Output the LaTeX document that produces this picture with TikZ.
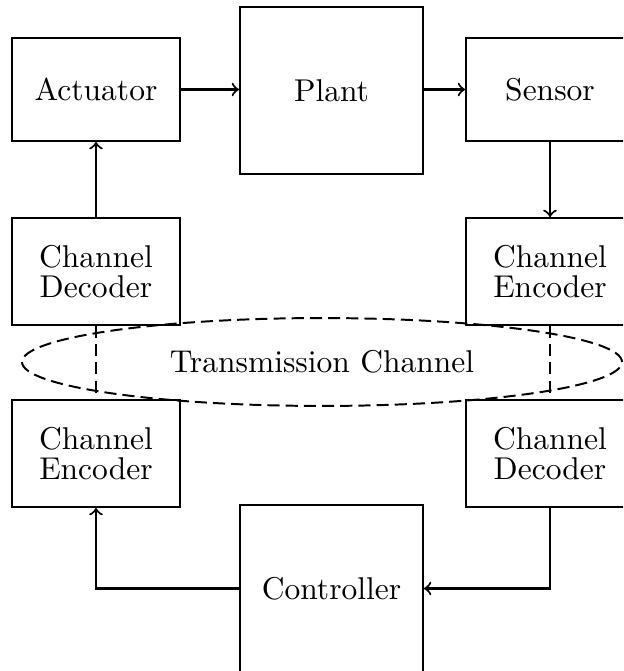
\documentclass[tikz,border=0pt]{standalone}
\usetikzlibrary{calc,shapes.geometric}
\begin{document}
\begin{tikzpicture}[x=0.33pt,y=-0.33pt,
  blk/.style={draw,line width=0.65pt,inner sep=0pt,align=center,
    font=\fontsize{10.4}{9.8}\selectfont},
  smallblk/.style={blk,minimum width=55.4pt,minimum height=34pt},
  chblk/.style={blk,minimum width=55.4pt,minimum height=35.3pt},
  bigblk/.style={blk,minimum width=60.4pt,minimum height=55.1pt},
  wire/.style={line width=0.7pt,->},
  chan/.style={line width=0.65pt,dash pattern=on 4pt off 2pt}]
\useasboundingbox (0,0) rectangle (623,671);
\clip (0,0) rectangle (623,671);

% loop blocks
\node[smallblk] (act)  at (96,89.5)    {Actuator};
\node[bigblk]   (plant) at (331.5,90.5) {Plant};
\node[smallblk] (sens) at (550,89.5)   {Sensor};
\node[chblk] (cdL) at (96,271.5)  {Channel\\Decoder};
\node[chblk] (ceR) at (550,271.5) {Channel\\Encoder};
\node[chblk] (ceL) at (96,453.5)  {Channel\\Encoder};
\node[chblk] (cdR) at (550,453.5) {Channel\\Decoder};
\node[bigblk] (ctrl) at (331.5,588.5) {Controller};

% transmission channel
\node[chan,draw,ellipse,minimum width=198pt,minimum height=29pt,inner sep=0pt,
  font=\fontsize{10.4}{12}\selectfont]
  (tc) at (322,362) {Transmission Channel};
\draw[chan] (cdL.south) -- (ceL.north);
\draw[chan] (ceR.south) -- (cdR.north);

% signal flow
\draw[wire] (act.east) -- (act.east -| plant.west);
\draw[wire] (sens.west -| plant.east) -- (sens.west);
\draw[wire] (sens.south) -- (ceR.north);
\draw[wire] (cdL.north) -- (act.south);
\draw[wire] (cdR.south) |- (ctrl.east);
\draw[wire] (ctrl.west) -| (ceL.south);
\end{tikzpicture}
\end{document}
